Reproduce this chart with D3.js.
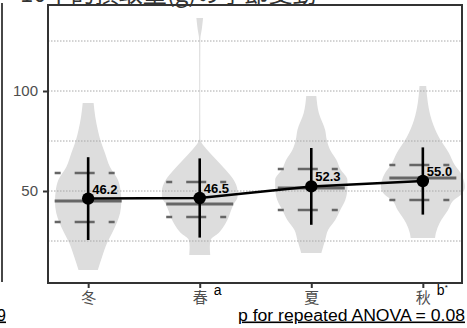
<!DOCTYPE html>
<html>
<head>
<meta charset="utf-8">
<script src="https://cdn.jsdelivr.net/npm/d3@7"></script>
<style>
  body { margin: 0; background: #fff; }
  svg { display: block; }
  text { font-family: 'Liberation Sans', Arial, sans-serif; }
  .cjk { font-family: 'Noto Sans CJK JP', 'Noto Sans CJK SC', sans-serif; }
</style>
</head>
<body>
<div id="chart"></div>
<script>
// season categories and significance marks
const seasons = ['冬', '春', '夏', '秋']
const sigMarks = ['', 'a', '', 'b']

// mean and sd per season
const means = [46.2, 46.5, 52.3, 55.0]
const sds = [20.7, 19.8, 19.2, 16.8]

// quartiles per season
const q1 = [34.5, 37, 40.5, 45.5]
const medians = [45, 43.5, 51.5, 56.5]
const q3 = [59, 54.5, 61, 63]

// violin outlines: [value, relative density]
const violinWinter = [[94, .13], [87, .17], [80.5, .23], [75.5, .29], [69, .40], [62, .52], [55.5, .71], [50.5, .77], [44.7, .79], [39, .76], [34.5, .69], [29, .57], [24, .45], [17, .33], [10.5, .23]]
const violinSpring = [[136.5, .08], [131, .05], [126, .015], [100, .012], [76, .015], [74.5, .035], [72, .12], [70.5, .18], [65.5, .40], [60.5, .62], [55.5, .81], [50, .90], [47, .90], [43.5, .81], [40, .74], [37, .69], [34, .62], [29, .45], [25.5, .26], [22, .24], [18, .25]]
const violinSummer = [[97.5, .12], [89, .18], [80.5, .33], [75.5, .37], [70.5, .45], [65.5, .60], [61, .69], [55.5, .86], [51.5, .86], [45.5, .81], [40.5, .69], [35.5, .57], [30.5, .40], [25.5, .33], [20.5, .26], [19, .24]]
const violinAutumn = [[102.5, .08], [94, .12], [85.5, .21], [77, .38], [69, .62], [63, .76], [59, .90], [55, .98], [52, 1.0], [48, .90], [45.5, .74], [40.5, .60], [34, .40], [29, .31], [26.5, .29]]
const violins = [violinWinter, violinSpring, violinSummer, violinAutumn]

// axis values
const gridValues = [25, 50, 75, 100, 125]
const yTicks = [50, 100]

const title = '10中的摂取量(g)の季節変動'
const pText = 'p for repeated ANOVA = 0.08'
const pTextLeft = '0.09'

const width = 467
const height = 328
const margin = { top: 5, right: 4, bottom: 45, left: 48 }

const svg = d3.select('#chart').append('svg')
  .attr('width', width)
  .attr('height', height)

const x = d3.scalePoint()
  .domain(seasons)
  .range([margin.left, width - margin.right])
  .padding(0.36)

const y = d3.scaleLinear()
  .domain([4, 143])
  .range([height - margin.bottom, margin.top])

const w = d3.scaleLinear().domain([0, 1]).range([0, 42])

// title, cut at the top edge
svg.append('text')
  .attr('class', 'cjk')
  .attr('x', 20)
  .attr('y', 1.5)
  .attr('font-size', 24)
  .attr('fill', '#333')
  .text(title)

// frame of the neighbouring panel
svg.append('line')
  .attr('x1', 2).attr('x2', 2)
  .attr('y1', 3).attr('y2', 282)
  .attr('stroke', '#333')
  .attr('stroke-width', 1.8)

// violins
const area = d3.area()
  .y(d => y(d[0]))
  .curve(d3.curveMonotoneY)

svg.append('g').selectAll('path')
  .data(violins)
  .join('path')
  .attr('d', (v, i) => area
    .x0(d => x(seasons[i]) - w(d[1]))
    .x1(d => x(seasons[i]) + w(d[1]))(v))
  .attr('fill', '#dddddd')

// grid
svg.append('g').selectAll('line')
  .data(gridValues)
  .join('line')
  .attr('x1', margin.left).attr('x2', width - margin.right)
  .attr('y1', d => y(d)).attr('y2', d => y(d))
  .attr('stroke', '#a8a8a8')
  .attr('stroke-width', 1)
  .attr('stroke-dasharray', '1.5,1.5')

// quartile lines (dashed) and median (solid)
const qHalf = 33.5
const quantGroup = svg.append('g')
  .attr('stroke', '#666')
  .attr('stroke-width', 2.6)

quantGroup.selectAll('.q')
  .data(seasons.flatMap((s, i) => [{ s, v: q1[i] }, { s, v: q3[i] }]))
  .join('line')
  .attr('class', 'q')
  .attr('x1', d => x(d.s) - qHalf).attr('x2', d => x(d.s) + qHalf)
  .attr('y1', d => y(d.v)).attr('y2', d => y(d.v))
  .attr('stroke-dasharray', '6,14,20,14,6,14')

quantGroup.selectAll('.med')
  .data(seasons)
  .join('line')
  .attr('class', 'med')
  .attr('x1', d => x(d) - qHalf).attr('x2', d => x(d) + qHalf)
  .attr('y1', (d, i) => y(medians[i])).attr('y2', (d, i) => y(medians[i]))
  .attr('stroke-width', 3)

// sd bars
svg.append('g').selectAll('line')
  .data(seasons)
  .join('line')
  .attr('x1', d => x(d)).attr('x2', d => x(d))
  .attr('y1', (d, i) => y(means[i] + sds[i]))
  .attr('y2', (d, i) => y(means[i] - sds[i]))
  .attr('stroke', '#000')
  .attr('stroke-width', 2.6)

// mean line and points
svg.append('path')
  .datum(seasons)
  .attr('d', d3.line().x(d => x(d)).y((d, i) => y(means[i])))
  .attr('fill', 'none')
  .attr('stroke', '#000')
  .attr('stroke-width', 2.5)

svg.append('g').selectAll('circle')
  .data(seasons)
  .join('circle')
  .attr('cx', d => x(d))
  .attr('cy', (d, i) => y(means[i]))
  .attr('r', 6.2)
  .attr('fill', '#000')

svg.append('g').selectAll('text')
  .data(seasons)
  .join('text')
  .attr('x', d => x(d) + 4)
  .attr('y', (d, i) => y(means[i]) - 5)
  .attr('font-size', 13)
  .attr('font-weight', 'bold')
  .attr('fill', '#000')
  .text((d, i) => means[i].toFixed(1))

// axes
const yAxis = svg.append('g')
  .attr('transform', `translate(${margin.left},0)`)
  .call(d3.axisLeft(y).tickValues(yTicks).tickSize(5).tickPadding(5))
yAxis.select('.domain').remove()

const xAxis = svg.append('g')
  .attr('transform', `translate(0,${height - margin.bottom})`)
  .call(d3.axisBottom(x).tickSize(5).tickPadding(4))
xAxis.select('.domain').remove()
xAxis.selectAll('text').attr('class', 'cjk')

svg.selectAll('.tick line').attr('stroke', '#333').attr('stroke-width', 2)
svg.selectAll('.tick text')
  .attr('fill', '#4d4d4d')
  .attr('font-size', 15)
yAxis.selectAll('text').attr('font-family', "'Liberation Sans', Arial, sans-serif")

// panel frame
svg.append('rect')
  .attr('x', margin.left)
  .attr('y', margin.top)
  .attr('width', width - margin.right - margin.left - 1)
  .attr('height', height - margin.bottom - margin.top)
  .attr('fill', 'none')
  .attr('stroke', '#333')
  .attr('stroke-width', 2)

// significance marks
const sig = svg.append('g').selectAll('text')
  .data(seasons)
  .join('text')
  .attr('x', d => x(d) + 14)
  .attr('y', 295)
  .attr('font-size', 14)
  .attr('fill', '#000')
  .text((d, i) => sigMarks[i])
sig.filter((d, i) => sigMarks[i] === 'b')
  .append('tspan')
  .attr('font-size', 8)
  .attr('dy', -5)
  .text('*')

// p-value notes
svg.append('text')
  .attr('x', 238)
  .attr('y', 320.5)
  .attr('font-size', 16)
  .attr('fill', '#000')
  .attr('text-decoration', 'underline')
  .attr('textLength', 227)
  .attr('lengthAdjust', 'spacingAndGlyphs')
  .text(pText)

svg.append('text')
  .attr('x', 6)
  .attr('y', 320.5)
  .attr('text-anchor', 'end')
  .attr('font-size', 16)
  .attr('fill', '#000')
  .attr('text-decoration', 'underline')
  .text(pTextLeft)
</script>
</body>
</html>
